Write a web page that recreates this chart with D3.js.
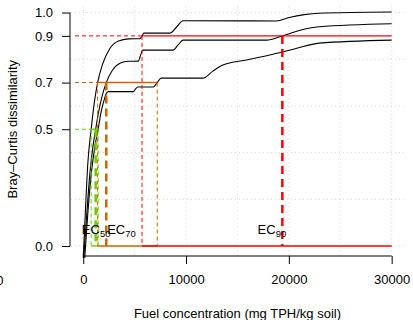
<!DOCTYPE html>
<html>
<head>
<meta charset="utf-8">
<script src="https://cdn.jsdelivr.net/npm/d3@7"></script>
<style>
  body { margin: 0; background: #fff; }
  svg { display: block; font-family: "Liberation Sans", Arial, Helvetica, sans-serif; }
  .grid line { stroke: #d3d3d3; stroke-dasharray: 1,3; }
</style>
</head>
<body>
<div id="chart"></div>
<script>
// fitted dissimilarity curves (upper, central, lower)
const upperX = [0, 193, 435, 773, 1111, 1401, 1884, 2560, 3429, 4395, 5506, 5719, 5893, 8453, 9080, 9711, 18789, 20045, 21494, 22943, 30000];
const upperY = [-0.051, 0.133, 0.347, 0.501, 0.625, 0.700, 0.779, 0.844, 0.878, 0.887, 0.888, 0.900, 0.912, 0.912, 0.938, 0.965, 0.964, 0.979, 0.991, 0.997, 1.002];
const midX = [48, 338, 676, 966, 1208, 1497, 1835, 2241, 2850, 3623, 4395, 5361, 5555, 5796, 8742, 9225, 9711, 17826, 19368, 21011, 22943, 30000];
const midY = [-0.051, 0.133, 0.325, 0.433, 0.500, 0.574, 0.642, 0.700, 0.754, 0.784, 0.791, 0.792, 0.814, 0.839, 0.839, 0.861, 0.882, 0.882, 0.900, 0.923, 0.939, 0.952];
const lowerX = [145, 435, 821, 1159, 1449, 1739, 2029, 2270, 2463, 4878, 5072, 5313, 6810, 7197, 7583, 11640, 12606, 13572, 15891, 18113, 20528, 22943, 30000];
const lowerY = [-0.051, 0.133, 0.325, 0.433, 0.500, 0.574, 0.625, 0.655, 0.661, 0.661, 0.672, 0.681, 0.681, 0.700, 0.719, 0.719, 0.749, 0.775, 0.797, 0.818, 0.844, 0.869, 0.882];

// effect concentrations: level, lower bound, estimate, upper bound (null = not reached)
const ecLevels = [0.5, 0.7, 0.9];
const ecLow = [773, 1401, 5719];
const ecEst = [1208, 2241, 19368];
const ecHigh = [1449, 7197, null];
const ecNames = ["50", "70", "90"];
const ecLabelX = [1256, 3719, 18354];
const ecColors = ["#66CD00", "#CD6600", "#FF0000"];

const xTicks = [0, 10000, 20000, 30000];
const yTicks = [0, 0.5, 0.7, 0.9, 1.0];
const xGrid = [0, 5000, 10000, 15000, 20000, 25000, 30000];
const yGrid = [0, 0.2, 0.4, 0.6, 0.8, 1.0];

const width = 413, height = 320;
const margin = { top: 3.2, right: 9, bottom: 64.7, left: 70.9 };

const x = d3.scaleLinear().domain([-1200, 31200]).range([margin.left, width - margin.right]);
const y = d3.scaleLinear().domain([-0.04, 1.04]).range([height - margin.bottom, margin.top]);

const svg = d3.select("#chart").append("svg")
    .attr("width", width)
    .attr("height", height);

// dotted grid
const grid = svg.append("g").attr("class", "grid");
grid.selectAll(".gx").data(xGrid).enter().append("line")
    .attr("x1", d => x(d)).attr("x2", d => x(d))
    .attr("y1", y.range()[0]).attr("y2", y.range()[1]);
grid.selectAll(".gy").data(yGrid).enter().append("line")
    .attr("y1", d => y(d)).attr("y2", d => y(d))
    .attr("x1", x.range()[0]).attr("x2", x.range()[1]);

// curves
const line = d3.line().x(d => x(d[0])).y(d => y(d[1])).curve(d3.curveMonotoneX);
[[upperX, upperY], [midX, midY], [lowerX, lowerY]].forEach(([xs, ys]) => {
    svg.append("path")
        .attr("d", line(xs.map((v, i) => [v, ys[i]])))
        .attr("fill", "none")
        .attr("stroke", "#000")
        .attr("stroke-width", 1.1);
});

// EC segments
const ecG = svg.append("g");
ecLevels.forEach((lev, i) => {
    const col = ecColors[i];
    const hi = ecHigh[i] === null ? 30000 : ecHigh[i];
    const seg = (x1, y1, x2, y2, w, dash) => ecG.append("line")
        .attr("x1", x(x1)).attr("y1", y(y1)).attr("x2", x(x2)).attr("y2", y(y2))
        .attr("stroke", col).attr("stroke-width", w)
        .attr("stroke-dasharray", dash);
    seg(-800, lev, ecLow[i], lev, 1, "4,3");
    seg(ecLow[i], lev, hi, lev, 1.4, null);
    seg(ecLow[i], lev, ecLow[i], 0, 1, "4,3");
    if (ecHigh[i] !== null) seg(ecHigh[i], lev, ecHigh[i], 0, 1, "4,3");
    seg(ecEst[i], lev, ecEst[i], 0, 2.5, "8,5");
    seg(ecLow[i], 0, hi, 0, 1.4, null);
});

// EC labels
ecNames.forEach((n, i) => {
    const t = svg.append("text")
        .attr("x", x(ecLabelX[i]))
        .attr("y", y(0.051))
        .attr("text-anchor", "middle")
        .attr("font-size", 13)
        .attr("fill", "#000");
    t.append("tspan").text("EC");
    t.append("tspan").attr("font-size", 9.5).attr("dy", 3).text(n);
});

// axes
const xAxis = svg.append("g")
    .attr("transform", `translate(0,256)`)
    .call(d3.axisBottom(x).tickValues(xTicks).tickSize(8).tickPadding(11).tickFormat(d3.format("d")));
xAxis.select(".domain").remove();
xAxis.append("line").attr("x1", x(0)).attr("x2", x(30000)).attr("stroke", "#000");

const yAxis = svg.append("g")
    .attr("transform", `translate(70,0)`)
    .call(d3.axisLeft(y).tickValues(yTicks).tickSize(8).tickPadding(9).tickFormat(d3.format(".1f")));
yAxis.select(".domain").remove();
yAxis.append("line").attr("y1", y(0)).attr("y2", y(1)).attr("stroke", "#000");

svg.selectAll(".tick text").attr("font-size", 13).attr("fill", "#000").attr("font-family", null);
svg.selectAll(".tick line").attr("stroke", "#000");

// neighbouring panel's last tick label, cut at the edge
svg.append("text").attr("x", 3.5).attr("y", 284.5).attr("text-anchor", "end")
    .attr("font-size", 13).text("30000");

// titles
svg.append("text")
    .attr("x", (x.range()[0] + x.range()[1]) / 2)
    .attr("y", 317.5)
    .attr("text-anchor", "middle")
    .attr("font-size", 13)
    .text("Fuel concentration (mg TPH/kg soil)");

svg.append("text")
    .attr("transform", `translate(17,${(y.range()[0] + y.range()[1]) / 2}) rotate(-90)`)
    .attr("text-anchor", "middle")
    .attr("font-size", 13)
    .text("Bray\u2013Curtis dissimilarity");
</script>
</body>
</html>
